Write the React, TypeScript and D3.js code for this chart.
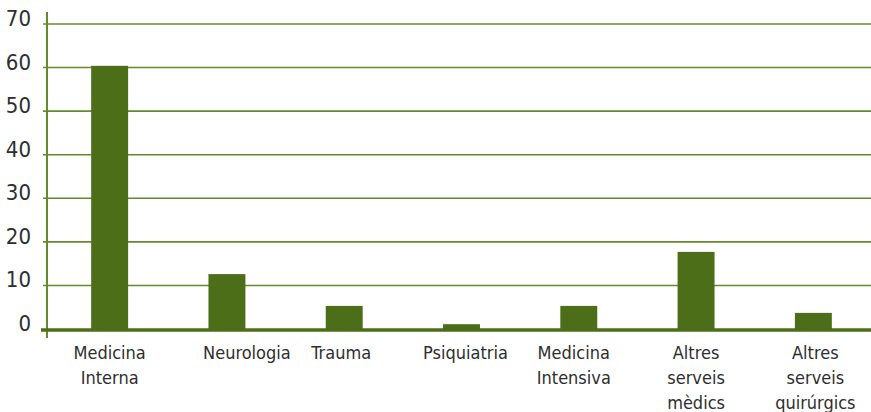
import React from "react";
import * as d3 from "d3";

const categories: string[][] = [
  ["Medicina", "Interna"],
  ["Neurologia"],
  ["Trauma"],
  ["Psiquiatria"],
  ["Medicina", "Intensiva"],
  ["Altres", "serveis", "mèdics"],
  ["Altres", "serveis", "quirúrgics"],
];
const values: number[] = [60.4, 12.6, 5.3, 1.1, 5.3, 17.7, 3.7];
const yTicks: number[] = [0, 10, 20, 30, 40, 50, 60, 70];

const W = 871;
const H = 412;
const labelDx = [0, 20, -3, 4, -5, 0, 2];

export default function App() {
  const x = d3
    .scaleBand<number>()
    .domain(d3.range(categories.length))
    .range([51, 872])
    .paddingInner(0.685)
    .paddingOuter(0.3425);
  const y = d3.scaleLinear().domain([0, 70]).range([329, 24]);
  const grid = "#648a2c";
  const bar = "#4c6e19";
  const font = "'DejaVu Sans Condensed', 'Liberation Sans Narrow', 'DejaVu Sans', sans-serif";
  return (
    <svg
      width={W}
      height={H}
      style={{ position: "absolute", left: 0, top: 0, background: "#fff" }}
    >
      {yTicks.map((t) => (
        <g key={t}>
          {t > 0 && (
            <line x1={43} x2={W} y1={y(t)} y2={y(t)} stroke={grid} strokeWidth={1.6} />
          )}
          <text
            x={31}
            y={y(t) - 4}
            textAnchor="end"
            dominantBaseline="middle"
            fontFamily={font}
            fontSize={22}
            fill="#2e2e2e"
            style={{ fontStretch: "condensed" }}
          >
            {t}
          </text>
        </g>
      ))}
      {values.map((v, i) => (
        <rect
          key={i}
          x={x(i)}
          y={y(v)}
          width={x.bandwidth()}
          height={y(0) - y(v)}
          fill={bar}
        />
      ))}
      <line x1={47} x2={47} y1={12} y2={338} stroke={grid} strokeWidth={2} />
      <line x1={41} x2={W} y1={y(0) + 1} y2={y(0) + 1} stroke={bar} strokeWidth={3.5} />
      {categories.map((lines, i) => (
        <text
          key={i}
          x={(x(i) as number) + x.bandwidth() / 2 + labelDx[i]}
          textAnchor="middle"
          fontFamily={font}
          fontSize={18}
          fill="#2e2e2e"
          style={{ fontStretch: "condensed" }}
        >
          {lines.map((l, j) => (
            <tspan key={j} x={(x(i) as number) + x.bandwidth() / 2 + labelDx[i]} y={359 + j * 25}>
              {l}
            </tspan>
          ))}
        </text>
      ))}
    </svg>
  );
}
